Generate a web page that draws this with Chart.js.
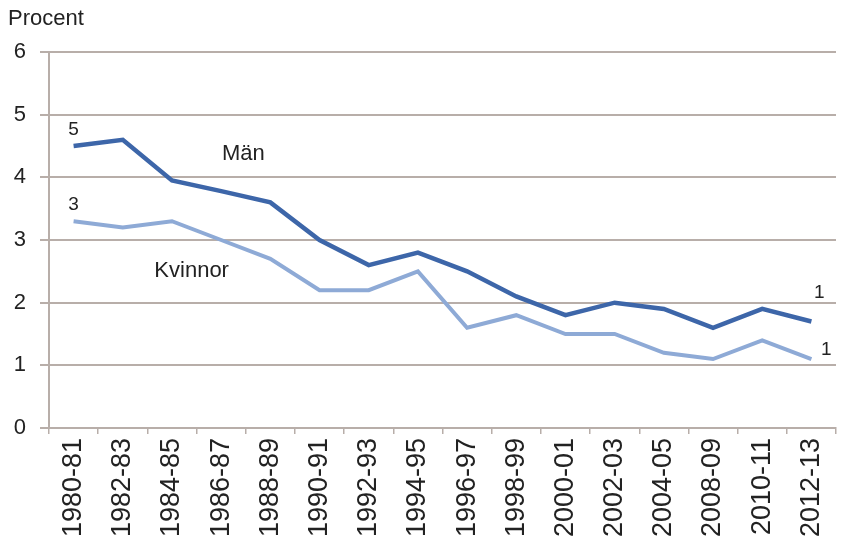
<!DOCTYPE html>
<html>
<head>
<meta charset="utf-8">
<script src="https://cdn.jsdelivr.net/npm/chart.js@4/dist/chart.umd.min.js"></script>
<style>
  html, body { margin: 0; padding: 0; background: #fff; }
  #wrap { width: 841px; height: 539px; }
</style>
</head>
<body>
<div id="wrap"><canvas id="chart" width="841" height="539"></canvas></div>
<script>
// Data
var perioder = ['1980-81', '1982-83', '1984-85', '1986-87', '1988-89', '1990-91', '1992-93', '1994-95',
    '1996-97', '1998-99', '2000-01', '2002-03', '2004-05', '2008-09', '2010-11', '2012-13'];
var man = [4.5, 4.6, 3.95, 3.78, 3.6, 3.0, 2.6, 2.8, 2.5, 2.1, 1.8, 2.0, 1.9, 1.6, 1.9, 1.7];
var kvinnor = [3.3, 3.2, 3.3, 3.0, 2.7, 2.2, 2.2, 2.5, 1.6, 1.8, 1.5, 1.5, 1.2, 1.1, 1.4, 1.1];
var yTicks = [0, 1, 2, 3, 4, 5, 6];

var gridColor = '#b8aea9';
var textColor = '#222';

// Draws the texts that sit inside the chart (series names, end labels, title)
var textPlugin = {
    id: 'texter',
    afterDatasetsDraw: function (chart) {
        var ctx = chart.ctx;
        var x = chart.scales.x, y = chart.scales.y;
        ctx.save();
        ctx.fillStyle = textColor;
        ctx.textAlign = 'center';
        ctx.textBaseline = 'middle';

        ctx.font = '19px Arial, "Liberation Sans"';
        ctx.fillText('5', x.getPixelForValue(0), y.getPixelForValue(man[0]) - 16);
        ctx.fillText('3', x.getPixelForValue(0), y.getPixelForValue(kvinnor[0]) - 16);
        var last = perioder.length - 1;
        ctx.fillText('1', x.getPixelForValue(last) + 8, y.getPixelForValue(man[last]) - 29);
        ctx.fillText('1', x.getPixelForValue(last) + 15, y.getPixelForValue(kvinnor[last]) - 9);

        ctx.font = '22px Arial, "Liberation Sans"';
        ctx.fillText('Män', x.getPixelForValue(3.45), y.getPixelForValue(4.37));
        ctx.fillText('Kvinnor', x.getPixelForValue(2.4), y.getPixelForValue(2.5));

        ctx.textAlign = 'left';
        ctx.textBaseline = 'alphabetic';
        ctx.font = '22px Arial, "Liberation Sans"';
        ctx.fillText('Procent', 8, 25);
        ctx.restore();
    }
};

var ctx = document.getElementById('chart').getContext('2d');
var chart = new Chart(ctx, {
    type: 'line',
    data: {
        labels: perioder,
        datasets: [{
            label: 'Män',
            data: man,
            borderColor: '#3d66a9',
            borderWidth: 4.5,
            pointRadius: 0,
            tension: 0,
            fill: false
        }, {
            label: 'Kvinnor',
            data: kvinnor,
            borderColor: '#8eaad6',
            borderWidth: 4,
            pointRadius: 0,
            tension: 0,
            fill: false
        }]
    },
    options: {
        responsive: false,
        animation: false,
        layout: { padding: { top: 52, right: 5, left: 0, bottom: 0 } },
        plugins: {
            legend: { display: false },
            tooltip: { enabled: false }
        },
        scales: {
            x: {
                offset: true,
                grid: {
                    offset: true,
                    drawOnChartArea: false,
                    drawTicks: true,
                    tickLength: 6,
                    color: gridColor,
                    lineWidth: 1.5
                },
                border: { color: gridColor, width: 2 },
                ticks: {
                    autoSkip: false,
                    minRotation: 90,
                    maxRotation: 90,
                    padding: 4,
                    color: textColor,
                    font: { family: '"Liberation Sans Narrow", Arial', size: 27 }
                },
                afterFit: function (axis) {
                    axis.height = 111;
                    axis.paddingLeft = 0;
                    axis.paddingRight = 0;
                }
            },
            y: {
                min: 0,
                max: 6,
                afterBuildTicks: function (axis) {
                    axis.ticks = yTicks.map(function (v) { return { value: v }; });
                },
                grid: {
                    color: gridColor,
                    lineWidth: 2,
                    tickLength: 9
                },
                border: { color: gridColor, width: 2 },
                ticks: {
                    padding: 14,
                    color: textColor,
                    font: { family: 'Arial, "Liberation Sans"', size: 22 }
                },
                afterFit: function (axis) {
                    axis.width = 49;
                    axis.paddingTop = 0;
                    axis.paddingBottom = 0;
                }
            }
        }
    },
    plugins: [textPlugin]
});
</script>
</body>
</html>
